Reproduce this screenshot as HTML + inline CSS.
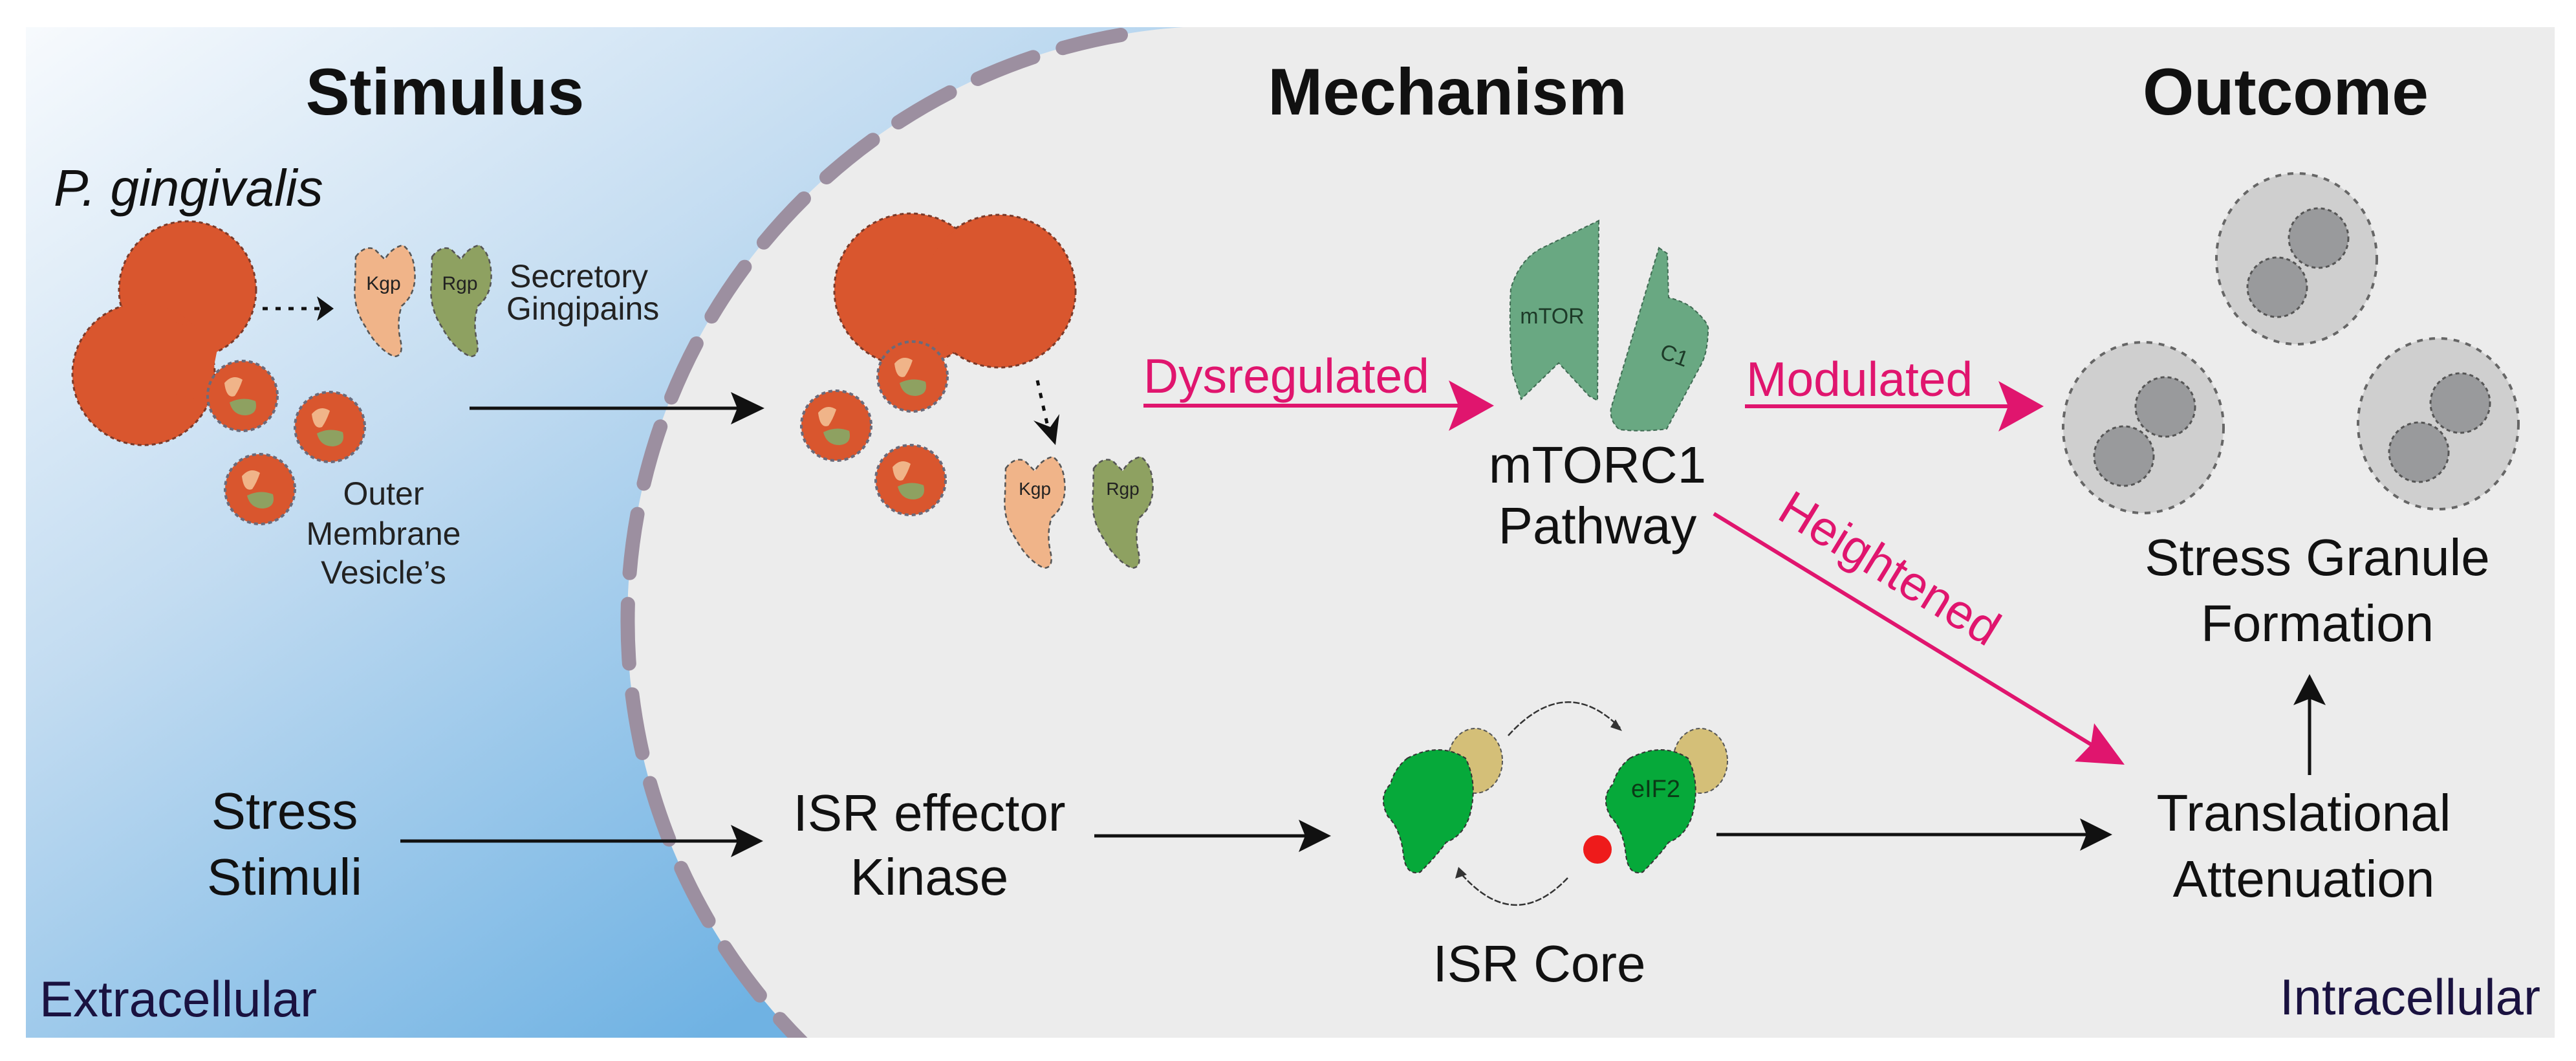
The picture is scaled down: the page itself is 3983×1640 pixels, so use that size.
<!DOCTYPE html>
<html><head><meta charset="utf-8"><style>
html,body{margin:0;padding:0;background:#fff;overflow:hidden;width:3983px;height:1640px;}
svg{display:block;font-family:"Liberation Sans",Arial,sans-serif;}
</style></head><body>
<svg width="3983" height="1640" viewBox="0 0 3983 1640" xmlns="http://www.w3.org/2000/svg">
<defs>
<linearGradient id="bg" x1="40" y1="42" x2="1100" y2="1604" gradientUnits="userSpaceOnUse">
<stop offset="0" stop-color="#f7fafd"/><stop offset="0.45" stop-color="#c3dcf1"/><stop offset="1" stop-color="#6fb2e3"/>
</linearGradient>
<clipPath id="pc"><rect x="40" y="42" width="3910" height="1562"/></clipPath>
<g id="ging">
<path d="M5,22 Q18,4 34,10 L50,26 Q60,8 78,4 Q94,16 96,42 Q100,78 76,98 Q68,122 74,150 Q80,176 64,176 Q38,164 20,130 Q0,100 4,62 Z" stroke="#555" stroke-width="2.5" stroke-dasharray="7 5"/>
</g>
<g id="eif">
<path d="M42,22 Q92,-4 132,22 Q152,62 138,112 Q128,142 102,152 Q88,172 62,198 Q40,204 36,172 Q32,132 12,112 Q-4,82 16,62 Q22,38 42,22 Z" fill="#06a93a" stroke="#333" stroke-width="2" stroke-dasharray="6 4"/>
</g>
<g id="ves">
<circle r="54" fill="#d9562e" stroke="#6a6a7a" stroke-width="4" stroke-dasharray="6 5"/>
<path d="M-28,-20 Q-15,-35 0,-25 Q-5,-10 -12,0 Q-25,5 -28,-20 Z" fill="#f0b489"/>
<path d="M-20,10 Q0,0 20,8 Q25,28 5,30 Q-15,30 -20,10 Z" fill="#8ea161"/>
</g>
<g id="gran">
<ellipse rx="124" ry="132" fill="#cfcfcf" stroke="#666" stroke-width="4" stroke-dasharray="9 10"/>
<circle cx="34" cy="-32" r="46" fill="#999a9c" stroke="#555" stroke-width="3" stroke-dasharray="6 5"/>
<circle cx="-30" cy="44" r="46" fill="#999a9c" stroke="#555" stroke-width="3" stroke-dasharray="6 5"/>
</g>
</defs>

<g clip-path="url(#pc)">
<rect x="40" y="42" width="3910" height="1562" fill="url(#bg)"/>
<rect x="1890" y="42" width="2060" height="1562" fill="#ececec"/>
<circle cx="1890" cy="960" r="920" fill="#ececec"/>
<path d="M1733,54 A920,920 0 0 0 1240,1611" fill="none" stroke="#9c8fa0" stroke-width="22" stroke-dasharray="92 48" stroke-linecap="round"/>
</g>

<!-- titles -->
<g font-weight="bold" font-size="102" fill="#111" text-anchor="middle">
<text x="688" y="177">Stimulus</text>
<text x="2238" y="177">Mechanism</text>
<text x="3534" y="177">Outcome</text>
</g>

<!-- extracellular bacterium -->
<text x="83" y="318" font-size="80" font-style="italic" fill="#111">P. gingivalis</text>
<g fill="#d9562e" stroke="#7a3a2a" stroke-width="3" stroke-dasharray="6 5">
<circle cx="290" cy="448" r="106"/>
<circle cx="222" cy="578" r="110"/>
</g>
<g fill="#d9562e">
<circle cx="290" cy="448" r="104"/>
<circle cx="222" cy="578" r="108"/>
<path d="M215,480 L340,520 L320,620 L230,600 Z"/>
</g>
<line x1="406" y1="477" x2="500" y2="477" stroke="#111" stroke-width="5" stroke-dasharray="8 12"/>
<path d="M490,458 L516,477 L490,496 L496,477 Z" fill="#111"/>
<use href="#ging" x="545" y="375" fill="#f0b489"/>
<use href="#ging" x="663" y="375" fill="#8ea161"/>
<text x="593" y="448" font-size="30" fill="#222" text-anchor="middle">Kgp</text>
<text x="711" y="448" font-size="30" fill="#222" text-anchor="middle">Rgp</text>
<text x="788" y="444" font-size="50" fill="#222">Secretory</text>
<text x="783" y="494" font-size="50" fill="#222">Gingipains</text>
<use href="#ves" x="375" y="612"/>
<use href="#ves" x="510" y="660"/>
<use href="#ves" x="402" y="756"/>
<g font-size="50" fill="#222" text-anchor="middle">
<text x="593" y="780">Outer</text>
<text x="593" y="842">Membrane</text>
<text x="593" y="902">Vesicle’s</text>
</g>
<line x1="726" y1="631" x2="1150" y2="631" stroke="#111" stroke-width="5"/>
<path d="M1130,606 L1182,631 L1130,656 L1140,631 Z" fill="#111"/>

<!-- intracellular bacterium -->
<g fill="#d9562e" stroke="#7a3a2a" stroke-width="3" stroke-dasharray="6 5">
<circle cx="1408" cy="448" r="118"/>
<circle cx="1545" cy="450" r="118"/>
</g>
<g fill="#d9562e">
<circle cx="1408" cy="448" r="116"/>
<circle cx="1545" cy="450" r="116"/>
</g>
<use href="#ves" x="1411" y="582"/>
<use href="#ves" x="1293" y="658"/>
<use href="#ves" x="1408" y="742"/>
<line x1="1604" y1="588" x2="1622" y2="668" stroke="#111" stroke-width="5" stroke-dasharray="8 12"/>
<path d="M1598,650 L1632,688 L1638,640 L1624,660 Z" fill="#111"/>
<use href="#ging" x="1550" y="702" fill="#f0b489"/>
<use href="#ging" x="1686" y="702" fill="#8ea161"/>
<text x="1600" y="765" font-size="28" fill="#222" text-anchor="middle">Kgp</text>
<text x="1736" y="765" font-size="28" fill="#222" text-anchor="middle">Rgp</text>

<!-- mTORC1 -->
<path d="M2472,341 L2470,619 L2457,612 L2410,561 L2352,617 L2338,574 Q2333,500 2336,446 Q2350,400 2385,383 Z" fill="#69a882" stroke="#3f6a52" stroke-width="2" stroke-dasharray="6 4"/>
<path d="M2565,383 L2578,392 L2580,460 Q2600,465 2614,474 Q2645,500 2641,512 Q2640,545 2631,562 L2577,663 Q2540,668 2504,664 Q2488,650 2491,631 Z" fill="#69a882" stroke="#3f6a52" stroke-width="2" stroke-dasharray="6 4"/>
<text x="2400" y="500" font-size="34" fill="#1d3a28" text-anchor="middle">mTOR</text>
<text x="2585" y="560" font-size="34" fill="#1d3a28" text-anchor="middle" transform="rotate(20 2585 560)">C1</text>
<g font-size="80" fill="#111" text-anchor="middle">
<text x="2470" y="746">mTORC1</text>
<text x="2470" y="840">Pathway</text>
</g>

<!-- magenta arrows -->
<g fill="#e0156e">
<text x="1768" y="607" font-size="75">Dysregulated</text>
<line x1="1768" y1="627" x2="2260" y2="627" stroke="#e0156e" stroke-width="6"/>
<path d="M2240,588 L2310,627 L2240,666 L2255,627 Z"/>
<text x="2700" y="612" font-size="75">Modulated</text>
<line x1="2698" y1="628" x2="3110" y2="628" stroke="#e0156e" stroke-width="6"/>
<path d="M3090,589 L3160,628 L3090,667 L3105,628 Z"/>
<line x1="2650" y1="794" x2="3245" y2="1158" stroke="#e0156e" stroke-width="6"/>
<path d="M3285,1182 L3208,1177 L3233,1151 L3238,1118 Z"/>
<text x="2745" y="800" font-size="75" transform="rotate(31.5 2745 800)">Heightened</text>
</g>

<!-- granules -->
<use href="#gran" x="3551" y="400"/>
<use href="#gran" x="3314" y="661"/>
<use href="#gran" x="3770" y="655"/>
<g font-size="80" fill="#111" text-anchor="middle">
<text x="3583" y="889">Stress Granule</text>
<text x="3583" y="991">Formation</text>
<text x="3562" y="1284">Translational</text>
<text x="3562" y="1386">Attenuation</text>
<text x="440" y="1281">Stress</text>
<text x="440" y="1383">Stimuli</text>
<text x="1437" y="1284">ISR effector</text>
<text x="1437" y="1383">Kinase</text>
<text x="2380" y="1517">ISR Core</text>
</g>
<line x1="3571" y1="1198" x2="3571" y2="1075" stroke="#111" stroke-width="5"/>
<path d="M3546,1090 L3571,1042 L3596,1090 L3571,1080 Z" fill="#111"/>

<!-- bottom arrows -->
<g stroke="#111" stroke-width="5">
<line x1="619" y1="1300" x2="1150" y2="1300"/>
<line x1="1692" y1="1292" x2="2030" y2="1292"/>
<line x1="2654" y1="1290" x2="3240" y2="1290"/>
</g>
<g fill="#111">
<path d="M1130,1275 L1180,1300 L1130,1325 L1140,1300 Z"/>
<path d="M2008,1267 L2058,1292 L2008,1317 L2018,1292 Z"/>
<path d="M3216,1265 L3266,1290 L3216,1315 L3226,1290 Z"/>
</g>

<!-- ISR core -->
<ellipse cx="2281" cy="1176" rx="42" ry="50" fill="#d4bf78" stroke="#555" stroke-width="2" stroke-dasharray="6 4"/>
<ellipse cx="2629" cy="1176" rx="42" ry="50" fill="#d4bf78" stroke="#555" stroke-width="2" stroke-dasharray="6 4"/>
<use href="#eif" x="2134" y="1150"/>
<use href="#eif" x="2478" y="1150"/>
<text x="2560" y="1232" font-size="38" fill="#0b3a16" text-anchor="middle">eIF2</text>
<circle cx="2470" cy="1313" r="22" fill="#ee1b1b"/>
<path d="M2332,1137 Q2420,1040 2505,1125" fill="none" stroke="#333" stroke-width="2.5" stroke-dasharray="10 3"/>
<path d="M2498,1112 L2508,1130 L2490,1124 Z" fill="#333"/>
<path d="M2424,1357 Q2340,1445 2257,1348" fill="none" stroke="#333" stroke-width="2.5" stroke-dasharray="10 3"/>
<path d="M2250,1358 L2255,1340 L2268,1352 Z" fill="#333"/>

<!-- region labels -->
<text x="61" y="1571" font-size="78" fill="#1a1240">Extracellular</text>
<text x="3928" y="1568" font-size="78" fill="#1a1240" text-anchor="end">Intracellular</text>
</svg>
</body></html>
